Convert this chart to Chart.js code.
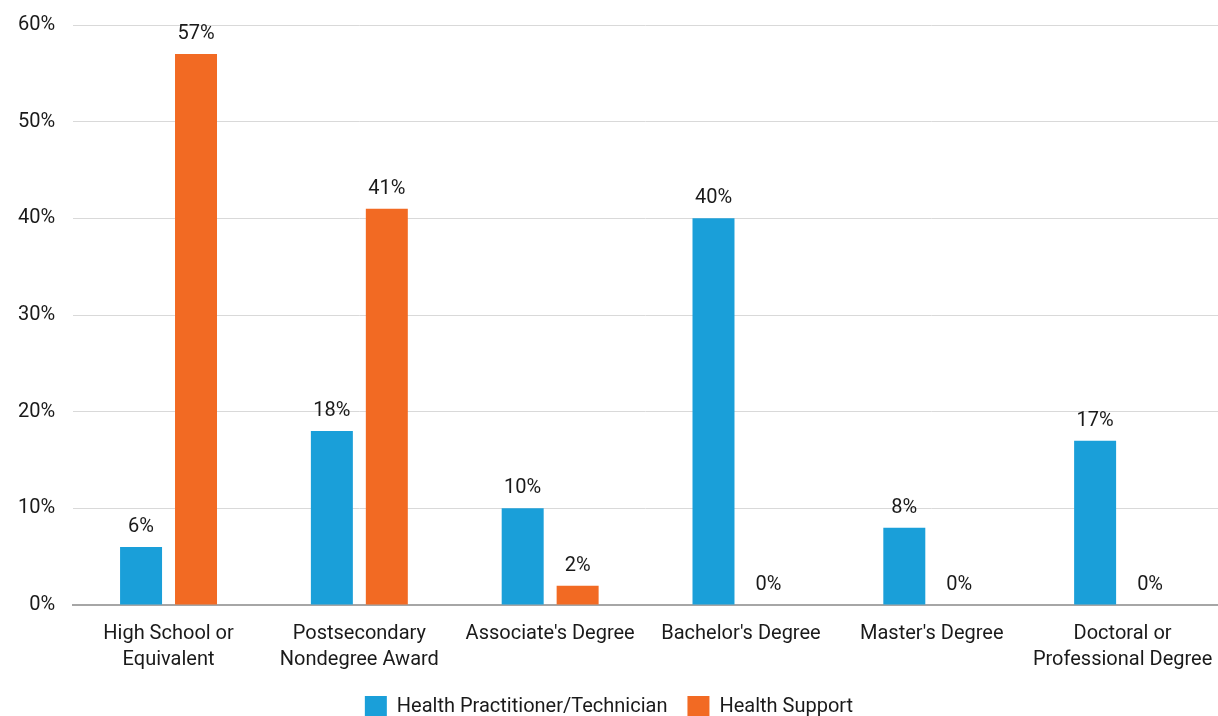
<!DOCTYPE html>
<html>
<head>
<meta charset="utf-8">
<script src="https://cdn.jsdelivr.net/npm/chart.js@4"></script>
<style>
html,body{margin:0;padding:0;background:#fff;}
#wrap{width:1218px;height:716px;}
</style>
</head>
<body>
<div id="wrap"><canvas id="c" width="1218" height="716"></canvas></div>
<script>
const categories = [["High School or","Equivalent"],["Postsecondary","Nondegree Award"],"Associate's Degree","Bachelor's Degree","Master's Degree",["Doctoral or","Professional Degree"]];
const practitioner = [6,18,10,40,8,17];
const support = [57,41,2,0,0,0];
const seriesNames = ["Health Practitioner/Technician","Health Support"];
const yTicks = [0,10,20,30,40,50,60];

const FONT = "Roboto, 'DejaVu Sans', sans-serif";

const labelPlugin = {
  id: 'barLabels',
  beforeUpdate(chart){
    const lg = chart.legend;
    if (lg && !lg._patched) {
      const f = lg.fit.bind(lg);
      lg.fit = function(){ f(); this.height -= 12; };
      lg._patched = true;
    }
  },
  afterDatasetsDraw(chart){
    const ctx = chart.ctx;
    ctx.save();
    ctx.font = "20px " + FONT;
    ctx.fillStyle = '#1a1a1a';
    ctx.textAlign = 'center';
    ctx.textBaseline = 'bottom';
    chart.data.datasets.forEach((ds,i)=>{
      const meta = chart.getDatasetMeta(i);
      meta.data.forEach((bar,j)=>{
        ctx.fillText(ds.data[j] + '%', bar.x, bar.y - 10);
      });
    });
    ctx.restore();
  }
};

new Chart(document.getElementById('c'), {
  type: 'bar',
  data: {
    labels: categories,
    datasets: [
      {label: seriesNames[0], data: practitioner, backgroundColor: '#1a9fd9', barPercentage: 0.764, categoryPercentage: 0.576},
      {label: seriesNames[1], data: support, backgroundColor: '#f26a23', barPercentage: 0.764, categoryPercentage: 0.576}
    ]
  },
  options: {
    responsive: false,
    animation: false,
    devicePixelRatio: 1,
    layout: {padding: {top: 25, left: 0, right: 0, bottom: 0}},
    plugins: {
      legend: {
        position: 'bottom',
        labels: {boxWidth: 22, boxHeight: 22, padding: 20, color: '#1a1a1a', font: {family: FONT, size: 20}}
      },
      tooltip: {enabled: false}
    },
    scales: {
      x: {
        afterFit(scale){ scale.paddingRight = 0; scale.paddingLeft = 0; scale.height -= 13; },
        grid: {display: false, drawTicks: false},
        border: {color: '#a6a6a6', width: 2},
        ticks: {color: '#1a1a1a', font: {family: FONT, size: 20, lineHeight: 1.3}, padding: 16, maxRotation: 0, autoSkip: false}
      },
      y: {
        min: 0, max: 60,
        afterFit(scale){ scale.paddingTop = 0; },
        afterBuildTicks(axis){ axis.ticks = yTicks.map(v=>({value:v})); },
        grid: {color: '#d9d9d9', lineWidth: 1, drawTicks: false},
        border: {display: false},
        ticks: {color: '#1a1a1a', font: {family: FONT, size: 20}, padding: 18, callback: v => v + '%'}
      }
    }
  },
  plugins: [labelPlugin]
});
</script>
</body>
</html>
